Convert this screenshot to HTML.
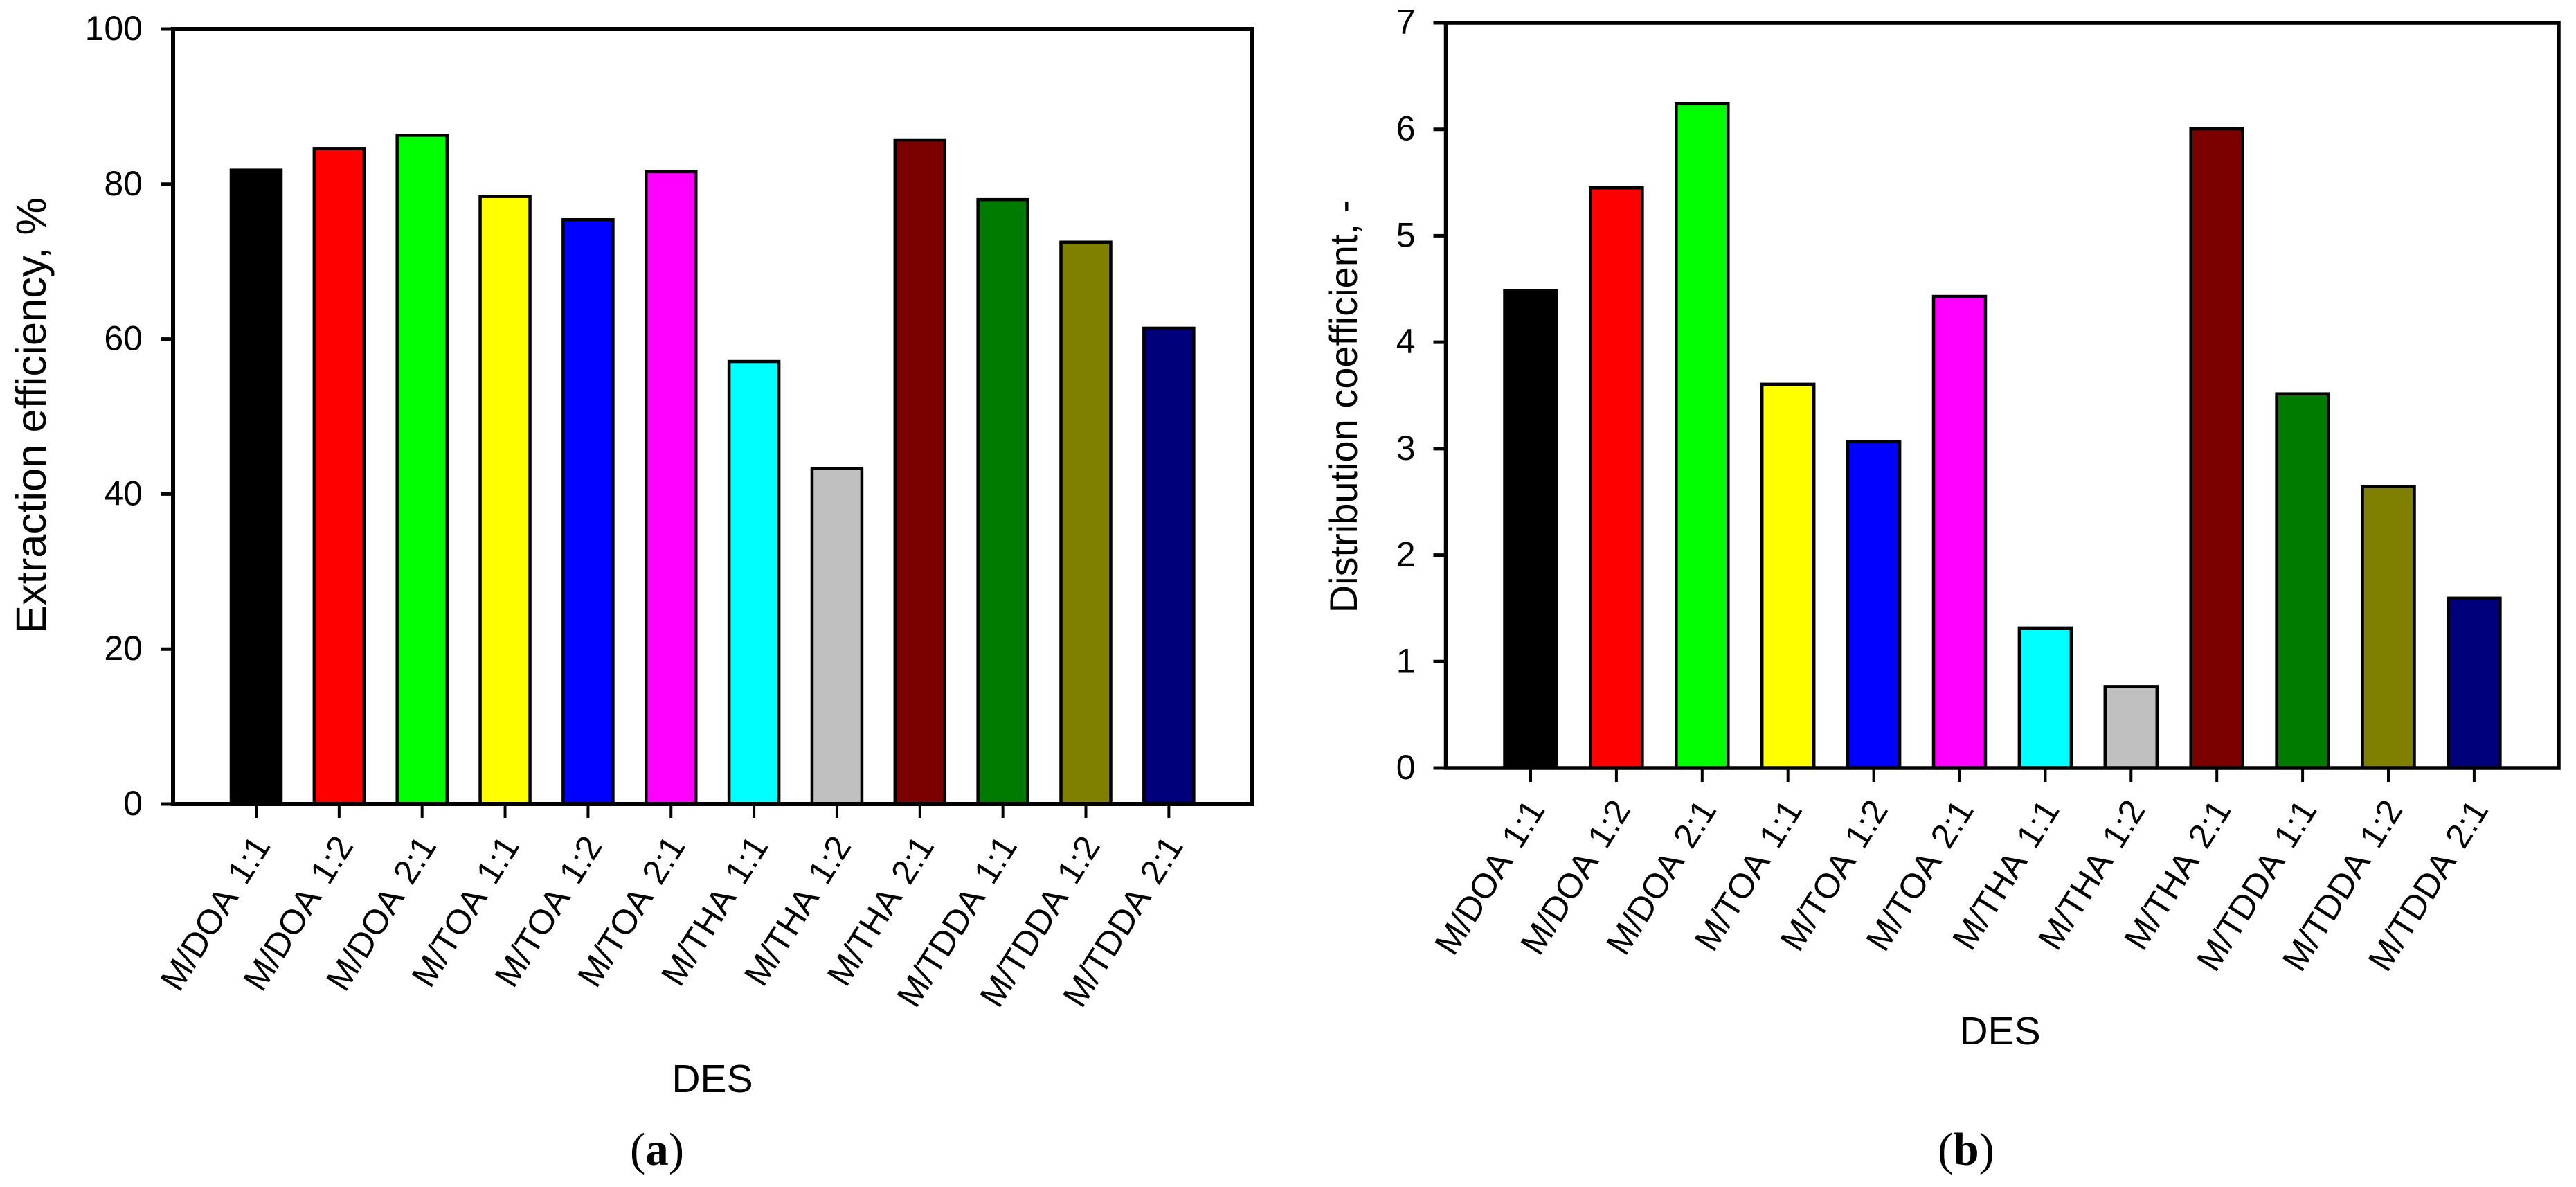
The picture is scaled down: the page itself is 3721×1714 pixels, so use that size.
<!DOCTYPE html>
<html>
<head>
<meta charset="utf-8">
<style>
html,body{margin:0;padding:0;background:#fff;}
svg{display:block;}
text{font-family:"Liberation Sans",Arial,sans-serif;fill:#000;}
.cap{font-family:"Liberation Serif",serif;}
</style>
</head>
<body>
<svg id="figure" xmlns="http://www.w3.org/2000/svg" width="3721" height="1714" viewBox="0 0 3721 1714">
  <rect x="0" y="0" width="3721" height="1714" fill="#ffffff"/>
  <g id="panelA"></g>
  <g id="panelB"></g>
  <text transform="translate(66,600) rotate(-90)" text-anchor="middle" font-size="61.5">Extraction efficiency, %</text>
  <text x="1029" y="1577" text-anchor="middle" font-size="57">DES</text>
  <text class="cap" x="949" y="1682" text-anchor="middle" font-size="67">(<tspan font-weight="bold">a</tspan>)</text>
  <text transform="translate(1960,587) rotate(-90)" text-anchor="middle" font-size="56">Distribution coefficient, -</text>
  <text x="2889" y="1508" text-anchor="middle" font-size="57">DES</text>
  <text class="cap" x="2840" y="1682" text-anchor="middle" font-size="67">(<tspan font-weight="bold">b</tspan>)</text>
</svg>
<script>
const categories = ["M/DOA 1:1","M/DOA 1:2","M/DOA 2:1","M/TOA 1:1","M/TOA 1:2","M/TOA 2:1","M/THA 1:1","M/THA 1:2","M/THA 2:1","M/TDDA 1:1","M/TDDA 1:2","M/TDDA 2:1"];
const barColors = ["#000000","#ff0000","#00ff00","#ffff00","#0000ff","#ff00ff","#00ffff","#c0c0c0","#7b0000","#007b00","#808000","#00007b"];
const efficiencyValues = [81.8,84.6,86.3,78.4,75.4,81.6,57.1,43.3,85.7,78.0,72.5,61.4];
const distributionValues = [4.485,5.45,6.24,3.605,3.065,4.43,1.315,0.765,6.005,3.515,2.645,1.595];
const efficiencyTicks = [0,20,40,60,80,100];
const distributionTicks = [0,1,2,3,4,5,6,7];

const NS = "http://www.w3.org/2000/svg";
function make(parent, tag, attrs, txt) {
  const el = document.createElementNS(NS, tag);
  for (const k in attrs) el.setAttribute(k, attrs[k]);
  if (txt !== undefined) el.textContent = txt;
  parent.appendChild(el);
  return el;
}

function drawPanel(parent, values, ticks, cfg) {
  const yScale = v => cfg.bottom - (v - cfg.yMin) / (cfg.yMax - cfg.yMin) * (cfg.bottom - cfg.top);
  const xScale = i => cfg.firstX + i * cfg.stepX;

  values.forEach((v, i) => {
    const y = yScale(v);
    const bar = make(parent, "rect", {x: xScale(i) - cfg.barW / 2, y: y, width: cfg.barW, height: cfg.bottom - y, fill: barColors[i], stroke: "#000", "stroke-width": 4.5});
    
    
  });

  const frame = make(parent, "rect", {x: cfg.left, y: cfg.top, width: cfg.right - cfg.left, height: cfg.bottom - cfg.top, fill: "none", stroke: "#000", "stroke-width": cfg.frameW});
  
  

  ticks.forEach(t => {
    const y = yScale(t);
    const mark = make(parent, "line", {x1: cfg.left - 18, x2: cfg.left, y1: y, y2: y, stroke: "#000", "stroke-width": 5});
    
    
    const lab = make(parent, "text", {x: cfg.left - 44, y: y + 16, "text-anchor": "end", "font-size": 50}, String(t));
    
    
  });

  categories.forEach((c, i) => {
    const x = xScale(i);
    const mark = make(parent, "line", {x1: x, x2: x, y1: cfg.bottom, y2: cfg.bottom + 20, stroke: "#000", "stroke-width": 4});
    
    
    const lab = make(parent, "text", {transform: "translate(" + (x + 22) + "," + (cfg.bottom + 60) + ") rotate(-58)", "text-anchor": "end", "font-size": 50, "word-spacing": 7}, c);
    
    
  });
}

drawPanel(document.getElementById("panelA"), efficiencyValues, efficiencyTicks,
  {id: "a", left: 250, right: 1809, top: 42, bottom: 1161, yMin: 0, yMax: 100, firstX: 370, stepX: 119.85, barW: 72, frameW: 6});
drawPanel(document.getElementById("panelB"), distributionValues, distributionTicks,
  {id: "b", left: 2088.5, right: 3696, top: 33, bottom: 1109, yMin: 0, yMax: 7, firstX: 2211, stepX: 123.9, barW: 75, frameW: 5.5});
</script>
</body>
</html>
